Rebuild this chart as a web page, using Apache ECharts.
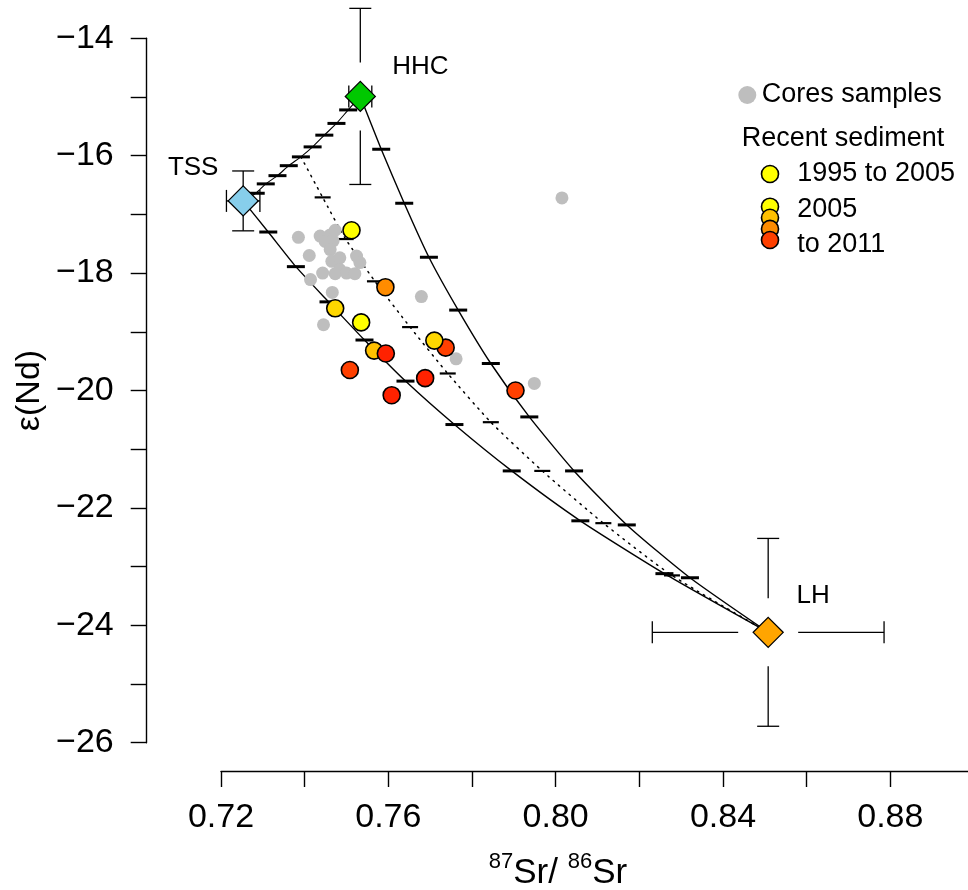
<!DOCTYPE html>
<html><head><meta charset="utf-8">
<script src="https://cdn.jsdelivr.net/npm/echarts@6/dist/echarts.min.js"></script>
<style>html,body{margin:0;padding:0;background:#fff}#c{width:968px;height:890px}</style>
</head><body><div id="c"></div>
<script>
// ---------------- DATA ----------------
// End-members
const emNames = ['TSS', 'HHC', 'LH'];
const emSr = [0.7253, 0.7533, 0.8508];
const emNd = [-16.77, -14.99, -24.12];
const emSrErr = [0.004, 0.00275, 0.0277];
const emNdErr = [0.51, 1.5, 1.6];

// Core samples (grey)
const coreSr = [0.7385, 0.7437, 0.7461, 0.7473, 0.7449, 0.7468, 0.7461, 0.7411, 0.7524, 0.7532, 0.7465, 0.7484,
                0.7443, 0.7473, 0.7484, 0.7500, 0.7520, 0.7414, 0.7466, 0.7445, 0.7679, 0.7762, 0.7949, 0.8015];
const coreNd = [-17.39, -17.37, -17.35, -17.27, -17.46, -17.45, -17.60, -17.70, -17.71, -17.82, -17.80, -17.74,
                -18.00, -18.01, -17.94, -18.00, -18.01, -18.11, -18.33, -18.88, -18.40, -19.46, -19.88, -16.72];

// Recent sediment (coloured by period class)
const sedSr = [0.7512, 0.7593, 0.7473, 0.7535, 0.7566, 0.7594, 0.7737, 0.7710, 0.7508, 0.7688, 0.7608, 0.7904];
const sedNd = [-17.27, -18.24, -18.60, -18.84, -19.32, -19.37, -19.27, -19.15, -19.65, -19.79, -20.08, -20.00];
const sedClass = [0, 3, 1, 0, 2, 5, 4, 1, 4, 5, 5, 4];

// Mixing curves (end-member, 10% steps, end-member)
const tssHhcSr = [0.7253, 0.7283, 0.7307, 0.7335, 0.7362, 0.7391, 0.7419, 0.7447, 0.7476, 0.7504, 0.7533];
const tssHhcNd = [-16.77, -16.64, -16.48, -16.34, -16.17, -16.02, -15.85, -15.65, -15.45, -15.22, -14.99];
const tssLhSr = [0.7253, 0.7313, 0.7379, 0.7457, 0.7543, 0.7641, 0.7758, 0.7895, 0.8059, 0.8260, 0.8508];
const tssLhNd = [-16.77, -17.30, -17.89, -18.49, -19.14, -19.84, -20.58, -21.37, -22.22, -23.12, -24.12];
const hhcLhSr = [0.7533, 0.7583, 0.7638, 0.7697, 0.7767, 0.7845, 0.7937, 0.8044, 0.8170, 0.8321, 0.8508];
const hhcLhNd = [-14.99, -15.89, -16.81, -17.73, -18.63, -19.54, -20.45, -21.37, -22.29, -23.19, -24.12];
const mixLhSr = [0.7391, 0.7443, 0.7498, 0.7568, 0.7652, 0.7742, 0.7845, 0.7968, 0.8114, 0.8278, 0.8508];
const mixLhNd = [-16.02, -16.71, -17.42, -18.14, -18.92, -19.71, -20.54, -21.37, -22.26, -23.15, -24.12];

// Legend texts
const legCore = 'Cores samples';
const legHeader = 'Recent sediment';
const legSed = ['1995 to 2005', '2005', 'to 2011'];

// Axis
const xMin = 0.72, xMax = 0.90, xStep = 0.02;
const yMin = -26, yMax = -14, yStep = 1;

// ---------------- STYLE ----------------
const FONT = '"Liberation Sans", Arial, Helvetica, sans-serif';
const sedPalette = ['#FFFF00', '#FFD700', '#FFC000', '#FF8C00', '#FF4000', '#FF2200'];
const legStack = ['#FFFF00', '#FFC000', '#FF8C00', '#FF4000'];
const emColors = ['#87CEEB', '#00C800', '#FFA500'];
const emLabelOffset = [[-50, -33], [60, -30], [45, -37]];
const errGap = [[0, 0], [30, 34], [30, 34]]; // [horizontal, vertical] px

const pairs = (a, b) => a.map((v, i) => [v, b[i]]);
const inner = arr => arr.slice(1, arr.length - 1);

const chart = echarts.init(document.getElementById('c'), null, {renderer: 'canvas'});

const curveStyle = {color: '#000', width: 1.4, opacity: 1};
function curve(sr, nd, style) {
  return {type: 'line', data: pairs(sr, nd), symbol: 'none', smooth: 0.2,
    lineStyle: style, clip: false, silent: true, z: 2, animation: false};
}
function ticks(sr, nd, size) {
  return {type: 'scatter', data: pairs(inner(sr), inner(nd)), symbol: 'rect', symbolSize: size,
    itemStyle: {color: '#000', opacity: 1, borderWidth: 0}, clip: false, silent: true, z: 3, animation: false};
}

const option = {
  animation: false,
  textStyle: {fontFamily: FONT},
  grid: {left: 221, width: 753, top: 38.3, height: 704.4, outerBoundsMode: 'none', containLabel: false},
  xAxis: {
    type: 'value', min: xMin, max: xMax, interval: xStep, offset: 28.3, position: 'bottom',
    axisLine: {show: true, onZero: false, lineStyle: {color: '#000', width: 1.4}},
    axisTick: {show: true, length: 16, lineStyle: {color: '#000', width: 1.4}},
    axisLabel: {fontSize: 34, color: '#000', margin: 30, fontFamily: FONT, hideOverlap: false,
      formatter: v => (Math.round(v * 100) % 4 === 0 ? v.toFixed(2) : '')},
    splitLine: {show: false}
  },
  yAxis: {
    type: 'value', min: yMin, max: yMax, interval: yStep, offset: 74.3, position: 'left',
    axisLine: {show: true, onZero: false, lineStyle: {color: '#000', width: 1.4}},
    axisTick: {show: true, length: 16, lineStyle: {color: '#000', width: 1.4}},
    axisLabel: {fontSize: 34, color: '#000', margin: 33, fontFamily: FONT, hideOverlap: false,
      formatter: v => (Math.round(v) % 2 === 0 ? '\u2212' + Math.abs(Math.round(v)) : '')},
    splitLine: {show: false}
  },
  series: [
    curve(tssHhcSr, tssHhcNd, {color: '#000', width: 1.1, opacity: 1}),
    curve(tssLhSr, tssLhNd, curveStyle),
    curve(hhcLhSr, hhcLhNd, curveStyle),
    curve(mixLhSr, mixLhNd, {color: '#000', width: 1.5, type: [1.5, 5.5], cap: 'round', opacity: 1}),
    ticks(tssHhcSr, tssHhcNd, [18, 3]),
    ticks(tssLhSr, tssLhNd, [18, 3]),
    ticks(hhcLhSr, hhcLhNd, [18, 3]),
    ticks(mixLhSr, mixLhNd, [16, 2.2]),
    {type: 'scatter', name: legCore, data: pairs(coreSr, coreNd), symbol: 'circle', symbolSize: 13,
      itemStyle: {color: '#BEBEBE', opacity: 1}, clip: false, z: 4},
    {type: 'scatter', name: legHeader,
      data: sedSr.map((v, i) => ({value: [v, sedNd[i]], itemStyle: {color: sedPalette[sedClass[i]]}})),
      symbol: 'circle', symbolSize: 17, itemStyle: {borderColor: '#000', borderWidth: 1.6, opacity: 1},
      clip: false, z: 5},
    {type: 'custom', clip: false, z: 6, silent: true,
      data: emSr.map((v, i) => [v, emNd[i], emSrErr[i], emNdErr[i]]),
      renderItem: function (params, api) {
        const x = api.value(0), y = api.value(1), ex = api.value(2), ey = api.value(3);
        const c = api.coord([x, y]);
        const l = api.coord([x - ex, y])[0], r = api.coord([x + ex, y])[0];
        const t = api.coord([x, y + ey])[1], b = api.coord([x, y - ey])[1];
        const g = errGap[params.dataIndex];
        const st = {stroke: '#000', lineWidth: 1.3, fill: null};
        const cap = 11;
        const segs = [];
        const add = (x1, y1, x2, y2) => segs.push({type: 'line', shape: {x1, y1, x2, y2}, style: st});
        if (c[1] - g[1] > t) add(c[0], c[1] - g[1], c[0], t);
        if (c[1] + g[1] < b) add(c[0], c[1] + g[1], c[0], b);
        if (c[0] - g[0] > l) add(c[0] - g[0], c[1], l, c[1]);
        if (c[0] + g[0] < r) add(c[0] + g[0], c[1], r, c[1]);
        add(c[0] - cap, t, c[0] + cap, t);
        add(c[0] - cap, b, c[0] + cap, b);
        add(l, c[1] - cap, l, c[1] + cap);
        add(r, c[1] - cap, r, c[1] + cap);
        return {type: 'group', children: segs};
      }
    },
    {type: 'scatter', clip: false, z: 7,
      data: emSr.map((v, i) => ({name: emNames[i], value: [v, emNd[i]],
        itemStyle: {color: emColors[i]},
        label: {offset: emLabelOffset[i]}})),
      symbol: 'diamond', symbolSize: 30,
      itemStyle: {borderColor: '#000', borderWidth: 1.3, opacity: 1},
      label: {show: true, position: 'inside', formatter: p => p.name, fontSize: 26, color: '#000',
        fontFamily: FONT, align: 'center', verticalAlign: 'middle', opacity: 1}
    }
  ],
  graphic: [
    {type: 'text', x: 30, y: 390.5, rotation: Math.PI / 2, z: 10,
      style: {text: '\u03b5(Nd)', fontSize: 34, fontFamily: FONT, fill: '#000',
        align: 'center', verticalAlign: 'middle', textAlign: 'center', textVerticalAlign: 'middle'}},
    {type: 'text', x: 558, y: 871, z: 10,
      style: {text: '{s|87}{b|Sr/ }{s|86}{b|Sr}', fill: '#000', fontFamily: FONT,
        align: 'center', verticalAlign: 'middle', textAlign: 'center', textVerticalAlign: 'middle',
        rich: {s: {fontSize: 22, fontFamily: FONT, lineHeight: 22, verticalAlign: 'top', fill: '#000'},
               b: {fontSize: 35, fontFamily: FONT, lineHeight: 40, verticalAlign: 'bottom', fill: '#000'}}}},
    // legend
    {type: 'circle', shape: {cx: 747.3, cy: 95, r: 9}, style: {fill: '#BEBEBE'}, z: 10},
    {type: 'text', x: 761.7, y: 95, z: 10, style: {text: legCore, fontSize: 27, fontFamily: FONT, fill: '#000',
      align: 'left', verticalAlign: 'middle', textAlign: 'left', textVerticalAlign: 'middle'}},
    {type: 'text', x: 741.7, y: 138.3, z: 10, style: {text: legHeader, fontSize: 27, fontFamily: FONT, fill: '#000',
      align: 'left', verticalAlign: 'middle', textAlign: 'left', textVerticalAlign: 'middle'}},
    {type: 'circle', shape: {cx: 770, cy: 174, r: 8.5}, style: {fill: legStack[0], stroke: '#000', lineWidth: 1.6}, z: 10},
    {type: 'text', x: 797.3, y: 173.5, z: 10, style: {text: legSed[0], fontSize: 27, fontFamily: FONT, fill: '#000',
      align: 'left', verticalAlign: 'middle', textAlign: 'left', textVerticalAlign: 'middle'}},
    {type: 'circle', shape: {cx: 770, cy: 206.7, r: 8.5}, style: {fill: legStack[0], stroke: '#000', lineWidth: 1.6}, z: 10},
    {type: 'circle', shape: {cx: 770, cy: 217.8, r: 8.5}, style: {fill: legStack[1], stroke: '#000', lineWidth: 1.6}, z: 11},
    {type: 'circle', shape: {cx: 770, cy: 228.9, r: 8.5}, style: {fill: legStack[2], stroke: '#000', lineWidth: 1.6}, z: 12},
    {type: 'circle', shape: {cx: 770, cy: 240, r: 8.5}, style: {fill: legStack[3], stroke: '#000', lineWidth: 1.6}, z: 13},
    {type: 'text', x: 797.3, y: 209.5, z: 10, style: {text: legSed[1], fontSize: 27, fontFamily: FONT, fill: '#000',
      align: 'left', verticalAlign: 'middle', textAlign: 'left', textVerticalAlign: 'middle'}},
    {type: 'text', x: 797.3, y: 245, z: 10, style: {text: legSed[2], fontSize: 27, fontFamily: FONT, fill: '#000',
      align: 'left', verticalAlign: 'middle', textAlign: 'left', textVerticalAlign: 'middle'}}
  ]
};
chart.setOption(option);
</script>
</body></html>
